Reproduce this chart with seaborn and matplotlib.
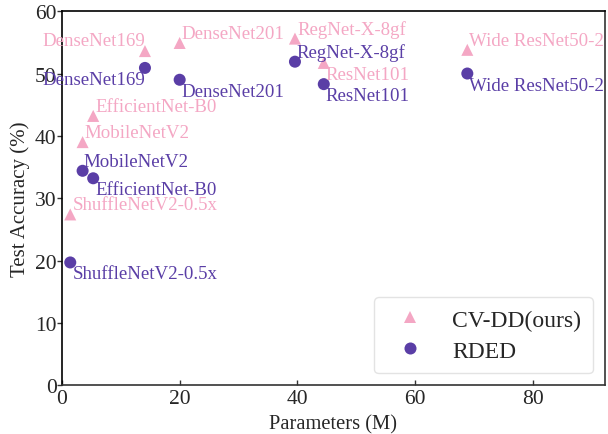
import matplotlib
matplotlib.use("Agg")
import matplotlib.pyplot as plt
import seaborn as sns
import pandas as pd

# ---- data ----
models = ["ShuffleNetV2-0.5x", "MobileNetV2", "EfficientNet-B0", "DenseNet169",
          "DenseNet201", "RegNet-X-8gf", "ResNet101", "Wide ResNet50-2"]
params_m = [1.4, 3.5, 5.3, 14.1, 20.0, 39.6, 44.5, 68.9]
cvdd_acc = [27.4, 39.0, 43.2, 53.6, 54.9, 55.6, 51.7, 53.8]
rded_acc = [19.7, 34.4, 33.2, 50.9, 49.0, 51.9, 48.3, 50.0]
methods = ["CV-DD(ours)", "RDED"]

df = pd.DataFrame({
    "Model": models * 2,
    "Parameters (M)": params_m * 2,
    "Test Accuracy (%)": cvdd_acc + rded_acc,
    "Method": [methods[0]] * len(models) + [methods[1]] * len(models),
})

# ---- style ----
sns.set_style("ticks")
plt.rcParams["font.family"] = ["Liberation Serif", "DejaVu Serif"]
plt.rcParams["mathtext.fontset"] = "stix"

PINK = "#f4a7c4"
PURPLE = "#5a3ea6"
palette = {methods[0]: PINK, methods[1]: PURPLE}
markers = {methods[0]: "^", methods[1]: "o"}

fig = plt.figure(figsize=(6.08, 4.35), dpi=100)
ax = fig.add_axes([0.102, 0.112, 0.893, 0.860])

sns.scatterplot(data=df, x="Parameters (M)", y="Test Accuracy (%)", hue="Method",
                style="Method", palette=palette, markers=markers, s=75,
                linewidth=0, ax=ax, zorder=3)

# label placement (pixels offset, alignment)
place_cvdd = {
    "DenseNet169": (0, 6, "right"),
    "ResNet101": (2, -16, "left"),
}
place_rded = {
    "DenseNet169": (0, -16, "right"),
    "MobileNetV2": (1, 5, "left"),
    "RegNet-X-8gf": (1, 5, "left"),
}
FS_ANN = 13.6
for m, x, y in zip(models, params_m, cvdd_acc):
    dx, dy, ha = place_cvdd.get(m, (2, 5, "left"))
    ax.annotate(m, (x, y), xytext=(dx, dy), textcoords="offset pixels",
                ha=ha, va="baseline", fontsize=FS_ANN, color=PINK)
for m, x, y in zip(models, params_m, rded_acc):
    dx, dy, ha = place_rded.get(m, (2, -16, "left"))
    ax.annotate(m, (x, y), xytext=(dx, dy), textcoords="offset pixels",
                ha=ha, va="baseline", fontsize=FS_ANN, color=PURPLE)

ax.set_xlim(0, 92.3)
ax.set_ylim(0, 60)
ax.set_xticks([0, 20, 40, 60, 80])
ax.set_yticks([0, 10, 20, 30, 40, 50, 60])
ax.tick_params(axis="x", labelsize=15.5, length=3.5, width=1, color="#333333",
               direction="in", pad=2.8)
ax.tick_params(axis="y", labelsize=15.5, length=3.5, width=1, color="#333333",
               direction="out", pad=0.3)
ax.set_xlabel("Parameters (M)", fontsize=14.8, labelpad=4.5)
ax.set_ylabel("Test Accuracy (%)", fontsize=15, labelpad=4)
for sp in ax.spines.values():
    sp.set_visible(True)
    sp.set_linewidth(1.2)
    sp.set_color("#333333")
ax.spines["left"].set_color("black")
ax.spines["top"].set_color("black")

leg = ax.legend(loc="lower right", fontsize=17, frameon=True, markerscale=1.0,
                borderpad=0.5, labelspacing=0.4)
leg.get_frame().set_edgecolor("#dddddd")
leg.get_frame().set_linewidth(1.0)

fig.savefig("out.png", dpi=100)
